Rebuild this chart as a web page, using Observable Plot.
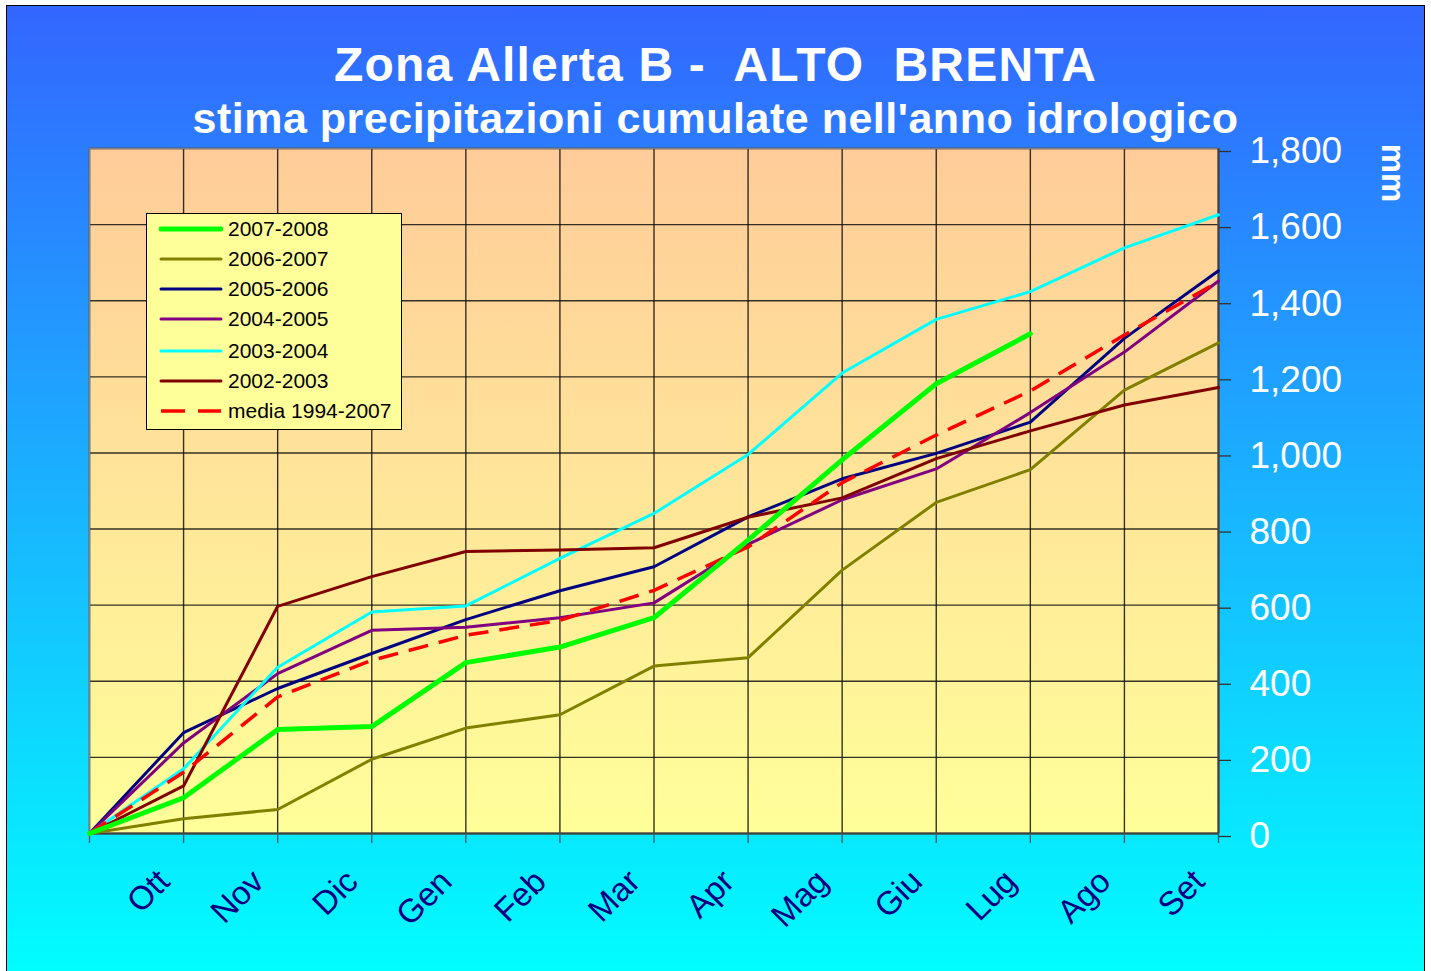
<!DOCTYPE html>
<html><head><meta charset="utf-8">
<script src="https://cdn.jsdelivr.net/npm/d3@7"></script>
<script src="https://cdn.jsdelivr.net/npm/@observablehq/plot@0.6"></script>
<style>
html,body{margin:0;padding:0;background:#fff;}
#wrap{position:relative;width:1431px;height:971px;overflow:hidden;font-family:"Liberation Sans",Arial,sans-serif;}
#bg{position:absolute;left:6px;top:5px;width:1417px;height:975px;border:1px solid #000;background:linear-gradient(#3366FF,#00FFFF);}
#chart{position:absolute;left:0;top:0;}
.title{position:absolute;left:0;width:1431px;text-align:center;color:#fff;font-weight:bold;white-space:pre;line-height:1;}
#legend{position:absolute;left:146px;top:213px;width:256px;height:217px;background:#FFFF99;border:1px solid #000;box-sizing:border-box;}
.row{position:absolute;left:0;height:30px;width:254px;}
.row svg{position:absolute;left:12px;top:0;}
.row span{position:absolute;left:81px;top:4px;font-size:21px;color:#000;line-height:20px;}
#mm{position:absolute;left:1393px;top:173px;color:#fff;font-weight:bold;font-size:33px;transform:translate(-50%,-50%) rotate(90deg);line-height:1;}
</style></head>
<body>
<div id="wrap">
  <div id="bg"></div>
  <div id="chart"></div>
  <div class="title" id="t1" style="top:41px;font-size:48px;letter-spacing:1.2px;">Zona Allerta B -  ALTO  BRENTA</div>
  <div class="title" id="t2" style="top:97px;font-size:43px;letter-spacing:0.5px;">stima precipitazioni cumulate nell'anno idrologico</div>
  <div id="mm">mm</div>
  <div id="legend"></div>
</div>
<script>
// ---- data ----
const months = ["Ott","Nov","Dic","Gen","Feb","Mar","Apr","Mag","Giu","Lug","Ago","Set"];
const yTicks = [0,200,400,600,800,1000,1200,1400,1600,1800];
const s2007_2008 = [0, 94, 273, 281, 449, 490, 567, 771, 982, 1182, 1313];
const s2006_2007 = [0, 39, 63, 195, 277, 312, 440, 462, 692, 870, 956, 1165, 1289];
const s2005_2006 = [0, 265, 381, 473, 562, 638, 701, 832, 932, 999, 1081, 1301, 1479];
const s2004_2005 = [0, 238, 420, 534, 542, 567, 606, 760, 877, 958, 1106, 1265, 1452];
const s2003_2004 = [0, 170, 437, 582, 598, 723, 841, 996, 1210, 1351, 1424, 1539, 1626];
const s2002_2003 = [0, 125, 597, 675, 741, 745, 751, 831, 882, 985, 1058, 1126, 1172];
const media = [0, 161, 359, 455, 521, 560, 639, 753, 922, 1047, 1163, 1310, 1450];

const series = [
  {name:"2007-2008", values:s2007_2008, color:"#00FF00", width:5},
  {name:"2006-2007", values:s2006_2007, color:"#808000", width:3},
  {name:"2005-2006", values:s2005_2006, color:"#000080", width:3},
  {name:"2004-2005", values:s2004_2005, color:"#800080", width:3},
  {name:"2003-2004", values:s2003_2004, color:"#00FFFF", width:3},
  {name:"2002-2003", values:s2002_2003, color:"#800000", width:3},
  {name:"media 1994-2007", values:media, color:"#FF0000", width:3.5, dash:"20,11"}
];
const rows = s => s.values.map((v,i)=>({i, v}));

const drawOrder = [1,2,3,4,5,6,0];
const lineMarks = drawOrder.map(k => {
  const s = series[k];
  return Plot.line(rows(s), {x:"i", y:"v", stroke:s.color, strokeWidth:s.width,
    strokeDasharray:s.dash, strokeLinejoin:"round", strokeLinecap: s.dash ? "butt" : "round"});
});

const plot = Plot.plot({
  width:1431, height:971,
  marginLeft:89, marginRight:213, marginTop:148, marginBottom:138,
  x:{domain:[0,12], axis:null},
  y:{domain:[0,1800], axis:null},
  style:{background:"transparent", fontFamily:"Liberation Sans, Arial, sans-serif", overflow:"visible"},
  marks:[
    Plot.frame({fill:"url(#plotGrad)", stroke:"none"}),
    Plot.ruleY(yTicks, {stroke:"#111", strokeOpacity:0.85, strokeWidth:1.4}),
    Plot.ruleX(d3.range(13), {stroke:"#111", strokeOpacity:0.85, strokeWidth:1.4}),
    Plot.frame({stroke:"#808080", strokeWidth:1.5}),
    Plot.ruleX([12], {stroke:"#404040", strokeWidth:2}),
    Plot.ruleY([0], {stroke:"#404040", strokeWidth:2}),
    Plot.axisY({anchor:"right", label:null, ticks:yTicks, tickSize:12, tickPadding:19, tickFormat:d3.format(","),
      fill:"white", stroke:"#333", fontSize:37, dy:3, strokeWidth:1.3}),
    Plot.axisX({anchor:"bottom", label:null, ticks:d3.range(13), tickSize:10, tickFormat:()=>"", stroke:"#2a5a60", strokeWidth:1.3}),
    Plot.text(months, {x:(d,i)=>i+1, frameAnchor:"bottom", dx:-12, dy:50, rotate:-45, textAnchor:"end",
      fill:"#000080", fontSize:33, text:d=>d}),
    ...lineMarks
  ]
});
const svg = d3.select(plot);
svg.insert("defs", ":first-child").html(
  '<linearGradient id="plotGrad" x1="0" y1="0" x2="0" y2="1">' +
  '<stop offset="0" stop-color="#FFCC99"/><stop offset="1" stop-color="#FFFF99"/></linearGradient>');
document.getElementById("chart").appendChild(plot);

// ---- legend ----
const leg = d3.select("#legend");
const rowTops = [0,30,60,90,122,152,182];
series.forEach((s,k)=>{
  const r = leg.append("div").attr("class","row").style("top",(rowTops[k]+1)+"px");
  const sv = r.append("svg").attr("width",64).attr("height",30);
  sv.append("line").attr("x1",2).attr("x2",62).attr("y1",14).attr("y2",14)
    .attr("stroke",s.color).attr("stroke-width",s.width)
    .attr("stroke-dasharray", s.dash ? "24,13" : null)
    .attr("stroke-linecap", s.dash ? "butt":"round");
  r.append("span").text(s.name);
});
</script>
</body></html>
